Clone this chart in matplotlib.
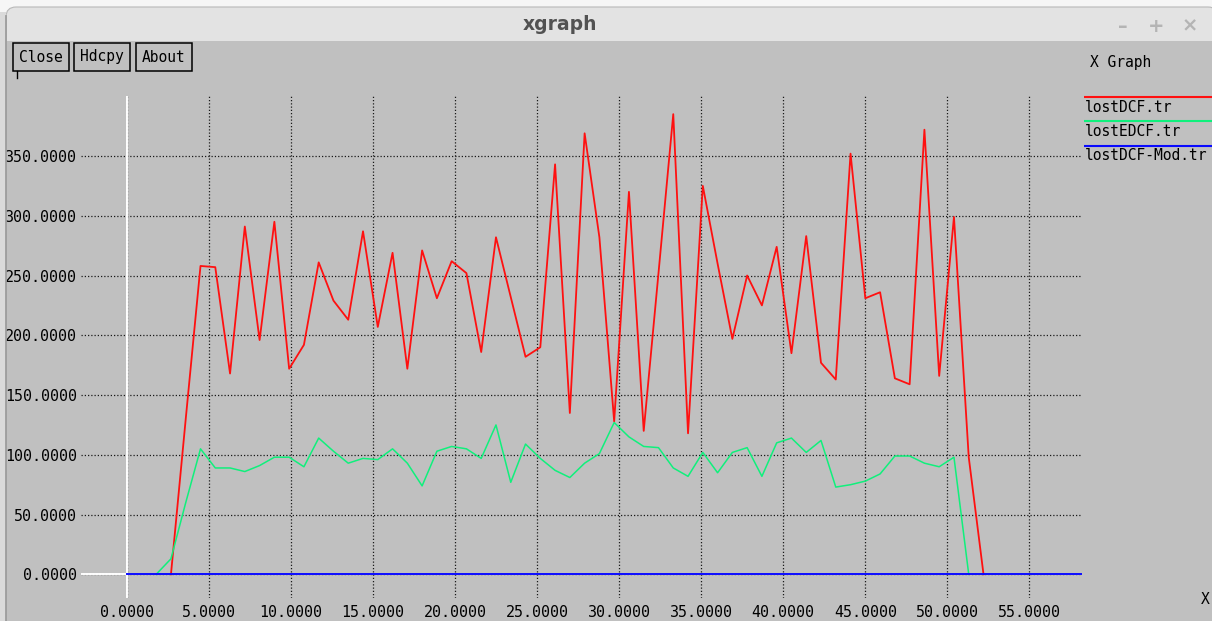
import matplotlib
matplotlib.use("Agg")
import matplotlib.pyplot as plt
from matplotlib.patches import Rectangle, FancyBboxPatch

# ----------------------------------------------------
# DATA (lost packets per trace file)
# ----------------------------------------------------
EDCF_T = [1.8, 2.7, 3.6, 4.5, 5.4, 6.3, 7.2, 8.1, 9.0, 9.9,
          10.8, 11.7, 12.6, 13.5, 14.4, 15.3, 16.2, 17.1, 18.0, 18.9,
          19.8, 20.7, 21.6, 22.5, 23.4, 24.3, 25.2, 26.1, 27.0, 27.9,
          28.8, 29.7, 30.6, 31.5, 32.4, 33.3, 34.2, 35.1, 36.0, 36.9,
          37.8, 38.7, 39.6, 40.5, 41.4, 42.3, 43.2, 44.1, 45.0, 45.9,
          46.8, 47.7, 48.6, 49.5, 50.4, 51.3]
EDCF_LOST = [0, 13, 60, 105, 89, 89, 86, 91, 98, 98,
             90, 114, 103, 93, 97, 96, 105, 93, 74, 103,
             107, 105, 97, 125, 77, 109, 97, 87, 81, 93,
             101, 127, 115, 107, 106, 89, 82, 102, 85, 102,
             106, 82, 110, 114, 102, 112, 73, 75, 78, 84,
             99, 99, 93, 90, 98, 0]

DCF_T = [2.7, 3.6, 4.5, 5.4, 6.3, 7.2, 8.1, 9.0, 9.9, 10.8,
         11.7, 12.6, 13.5, 14.4, 15.3, 16.2, 17.1, 18.0, 18.9, 19.8,
         20.7, 21.6, 22.5, 23.4, 24.3, 25.2, 26.1, 27.0, 27.9, 28.8,
         29.7, 30.6, 31.5, 32.4, 33.3, 34.2, 35.1, 36.0, 36.9, 37.8,
         38.7, 39.6, 40.5, 41.4, 42.3, 43.2, 44.1, 45.0, 45.9, 46.8,
         47.7, 48.6, 49.5, 50.4, 51.3, 52.2]
DCF_LOST = [0, 130, 258, 257, 168, 291, 196, 295, 172, 192,
            261, 229, 213, 287, 207, 269, 172, 271, 231, 262,
            252, 186, 282, 232, 182, 190, 343, 135, 369, 282,
            128, 320, 120, 252, 385, 118, 325, 260, 197, 250,
            225, 274, 185, 283, 177, 163, 352, 231, 236, 164,
            159, 372, 166, 299, 98, 0]

MOD_T = [0.0, 58.2]
MOD_LOST = [0, 0]

X_TICKS = [0, 5, 10, 15, 20, 25, 30, 35, 40, 45, 50, 55]
Y_TICKS = [0, 50, 100, 150, 200, 250, 300, 350]
LEGEND = ["lostDCF.tr", "lostEDCF.tr", "lostDCF-Mod.tr"]
COLORS = ["#ff1010", "#10f07c", "#0a0aff"]

W, H = 1212, 621
BG = "#c0c0c0"
MONO = "DejaVu Sans Mono"


def frame_axes(fig, z):
    a = fig.add_axes([0, 0, 1, 1], zorder=z)
    a.set_xlim(0, W)
    a.set_ylim(H, 0)
    a.axis("off")
    a.patch.set_visible(False)
    return a


def main():
    fig = plt.figure(figsize=(W / 100, H / 100), dpi=100)
    fig.patch.set_facecolor(BG)

    # ----------------------------------------------------
    # WINDOW CHROME
    # ----------------------------------------------------
    bg = frame_axes(fig, 0)
    bg.add_patch(Rectangle((0, 0), W, 41, facecolor="#f6f6f6", edgecolor="none"))
    bg.add_patch(FancyBboxPatch((6, 7), W, 60, boxstyle="round,pad=0,rounding_size=10",
                                facecolor="#e3e3e3", edgecolor="#b8b8b8", lw=0.8))
    bg.add_patch(Rectangle((7, 41), W, H, facecolor=BG, edgecolor="none"))
    bg.text(560, 24, "xgraph", ha="center", va="center", fontsize=13.5,
            fontweight="bold", color="#525252", family="DejaVu Sans")
    for xc, s in [(1123, "\u2013"), (1156, "+"), (1190, "\u00d7")]:
        bg.text(xc, 26, s, ha="center", va="center", fontsize=14,
                fontweight="bold", color="#b4b4b4")

    # buttons
    for x0, x1, label in [(13, 69, "Close"), (74, 130, "Hdcpy"), (136, 192, "About")]:
        bg.add_patch(Rectangle((x0, 43), x1 - x0, 28, facecolor="none",
                               edgecolor="black", lw=1.1))
        bg.text((x0 + x1) / 2, 57, label, ha="center", va="center",
                fontsize=10.5, family=MONO, color="black")
    bg.plot([17, 17], [71, 78], color="black", lw=1)

    bg.text(1090, 62, "X Graph", ha="left", va="center", fontsize=10.5,
            family=MONO, color="black")

    # legend
    for i, (name, c) in enumerate(zip(LEGEND, COLORS)):
        yl = 97 + i * 24.3
        bg.plot([1084, W], [yl, yl], color=c, lw=1.5, solid_capstyle="butt")
        bg.text(1085, yl + 10, name, ha="left", va="center", fontsize=10.5,
                family=MONO, color="black")

    bg.text(1205, 599, "X", ha="center", va="center", fontsize=10.5,
            family=MONO, color="black")

    # ----------------------------------------------------
    # PLOT AREA
    # ----------------------------------------------------
    left, right, top, bottom = 81, 1082, 96, 598
    ax = fig.add_axes([left / W, 1 - bottom / H, (right - left) / W, (bottom - top) / H],
                      zorder=1)
    ax.patch.set_visible(False)
    ax.set_xlim(-2.78, 58.2)
    ax.set_ylim(-19.8, 400.2)
    for s in ax.spines.values():
        s.set_visible(False)

    ax.set_xticks(X_TICKS)
    ax.set_xticklabels([f"{v:.4f}" for v in X_TICKS])
    ax.set_yticks(Y_TICKS)
    ax.set_yticklabels([f"{v:.4f}" for v in Y_TICKS])
    ax.tick_params(length=0, labelsize=10.8, colors="black")
    ax.tick_params(axis="x", pad=5)
    ax.tick_params(axis="y", pad=3)
    for lab in ax.get_xticklabels() + ax.get_yticklabels():
        lab.set_family(MONO)

    ax.grid(True, color="#1a1a1a", lw=0.9, linestyle=(0, (1, 1.6)))
    ax.set_axisbelow(True)
    ax.axvline(0, color="white", lw=1.4, zorder=2)
    ax.axhline(0, color="white", lw=1.4, zorder=2)

    ax.plot(DCF_T, DCF_LOST, color=COLORS[0], lw=1.3, zorder=3)
    ax.plot(EDCF_T, EDCF_LOST, color=COLORS[1], lw=1.1, zorder=3)
    ax.plot(MOD_T, MOD_LOST, color=COLORS[2], lw=1.4, zorder=4)

    # left window border drawn over the clipped tick labels
    fg = frame_axes(fig, 2)
    fg.add_patch(Rectangle((0, 12), 5.5, H, facecolor="#dadada", edgecolor="none"))
    fg.plot([6.3, 6.3], [16, H], color="#9c9c9c", lw=1.3)

    fig.savefig("out.png", dpi=100, facecolor=fig.get_facecolor())
    plt.close(fig)


if __name__ == "__main__":
    main()
